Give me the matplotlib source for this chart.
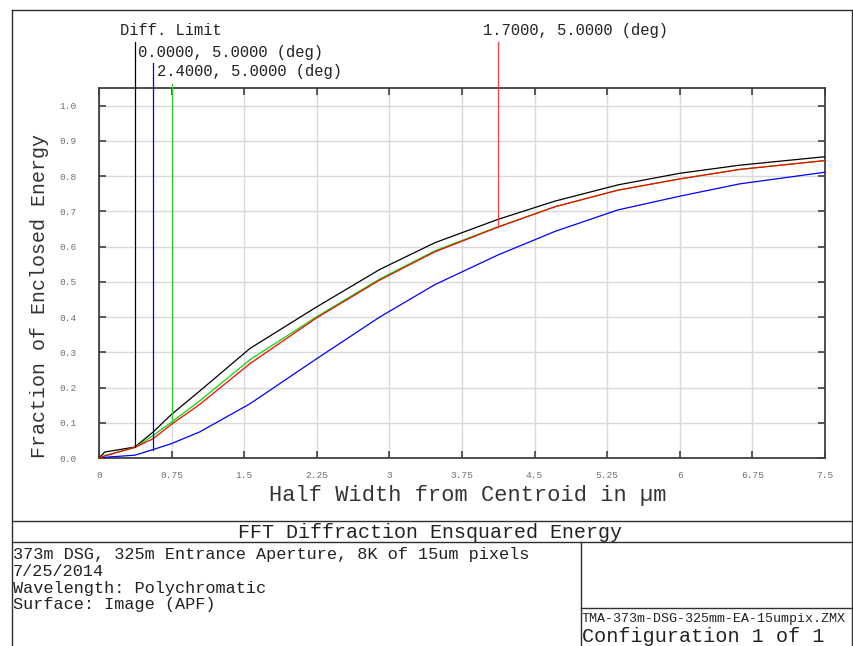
import numpy as np
import matplotlib.pyplot as plt
from matplotlib.lines import Line2D

# radius samples (um) and encircled energy per curve
half_width = [0, 0.06, 0.37, 0.56, 0.75, 1.04, 1.56, 2.25, 2.90, 3.47, 4.12, 4.71, 5.36, 6.0, 6.62, 7.5]
diff_limit = [0, 0.017, 0.031, 0.074, 0.124, 0.19, 0.311, 0.429, 0.535, 0.611, 0.677, 0.729, 0.775, 0.808, 0.831, 0.855]
field_1 = [0, 0.002, 0.008, 0.024, 0.041, 0.074, 0.154, 0.282, 0.400, 0.492, 0.576, 0.643, 0.704, 0.743, 0.778, 0.811]
field_2 = [0, 0.007, 0.030, 0.064, 0.102, 0.162, 0.279, 0.401, 0.508, 0.588, 0.656, 0.713, 0.760, 0.792, 0.819, 0.844]
field_3 = [0, 0.006, 0.030, 0.055, 0.096, 0.152, 0.268, 0.398, 0.505, 0.585, 0.655, 0.713, 0.760, 0.792, 0.819, 0.844]

labels = ["Diff. Limit", "0.0000, 5.0000 (deg)", "2.4000, 5.0000 (deg)", "1.7000, 5.0000 (deg)"]
label_x = [0.37, 0.56, 0.75, 4.12]

x_ticks = [0, 0.75, 1.5, 2.25, 3, 3.75, 4.5, 5.25, 6, 6.75, 7.5]
x_tick_labels = ["0", "0.75", "1.5", "2.25", "3", "3.75", "4.5", "5.25", "6", "6.75", "7.5"]
y_ticks = [0.0, 0.1, 0.2, 0.3, 0.4, 0.5, 0.6, 0.7, 0.8, 0.9, 1.0]

info_lines = ["373m DSG, 325m Entrance Aperture, 8K of 15um pixels",
              "7/25/2014",
              "Wavelength: Polychromatic",
              "Surface: Image (APF)"]

mono = "Liberation Mono"
W, H = 854, 646

fig = plt.figure(figsize=(W / 100, H / 100), dpi=100)
ax = fig.add_axes([99 / W, 1 - 458 / H, (825 - 99) / W, (458 - 88) / H])


def px(x, y):
    return x / W, 1 - y / H


curves = [(diff_limit, "black"), (field_1, "#0000ff"), (field_2, "#00dd00"), (field_3, "#ff0000")]
for vals, col in curves:
    ax.plot(half_width, vals, color=col, lw=0.9, zorder=3)

# legend marker lines dropping from labels onto curves
tops = [1.181, 1.121, 1.061, 1.181]
text_y = [1.213, 1.152, 1.097, 1.213]
line_cols = ["black", "#0000e0", "#33cc33", "#ff4040"]
for i, (vals, col) in enumerate(curves):
    xv = label_x[i]
    yv = np.interp(xv, half_width, vals)
    ax.plot([xv, xv], [yv, tops[i]], color=line_cols[i], lw=0.9, clip_on=False, zorder=4)
    ax.text(xv - 0.155, text_y[i], labels[i], family=mono, fontsize=11.2,
            color="#222222", va="center", ha="left", clip_on=False)

ax.set_xlim(0, 7.5)
ax.set_ylim(0, 1.05)
ax.set_xticks(x_ticks)
ax.set_xticklabels(x_tick_labels)
ax.set_yticks(y_ticks)
ax.set_yticklabels(["%.1f" % v for v in y_ticks])
ax.grid(True, color="#d9d9d9", lw=1.0)
ax.set_axisbelow(True)
ax.tick_params(direction="in", length=5, width=1.2, color="#404040",
               top=True, right=True, labelsize=6.8, labelcolor="#707070")
ax.tick_params(axis="x", pad=9)
ax.tick_params(axis="y", pad=16)
for lab in ax.get_xticklabels() + ax.get_yticklabels():
    lab.set_family(mono)
for s in ax.spines.values():
    s.set_color("#404040")
    s.set_linewidth(1.3)

fig.text(*px(468, 495), "Half Width from Centroid in \u00b5m", family=mono, fontsize=15.8,
         color="#333333", ha="center", va="center")
fig.text(*px(40, 296), "Fraction of Enclosed Energy", family=mono, fontsize=14.4,
         color="#333333", ha="center", va="center", rotation=90)

# frame boxes
seg = [((12, 10), (852, 10)), ((12, 10), (12, 646)), ((852, 10), (852, 646)),
       ((12, 521), (852, 521)), ((12, 542), (852, 542)),
       ((581, 542), (581, 646)), ((581, 608), (852, 608))]
for (x0, y0), (x1, y1) in seg:
    a, b = px(x0, y0)
    c, d = px(x1, y1)
    fig.add_artist(Line2D([a, c], [b, d], color="#303030", lw=1.0))

fig.text(*px(430, 532), "FFT Diffraction Ensquared Energy", family=mono, fontsize=14.4,
         ha="center", va="center", color="#222222")
for i, line in enumerate(info_lines):
    fig.text(*px(13, 555 + i * 16.5), line, family=mono, fontsize=12.2,
             ha="left", va="center", color="#222222")
fig.text(*px(582, 619), "TMA-373m-DSG-325mm-EA-15umpix.ZMX", family=mono, fontsize=9.6,
         ha="left", va="center", color="#222222")
fig.text(*px(582, 636), "Configuration 1 of 1", family=mono, fontsize=14.5,
         ha="left", va="center", color="#222222")

fig.savefig("out.png", dpi=100)
